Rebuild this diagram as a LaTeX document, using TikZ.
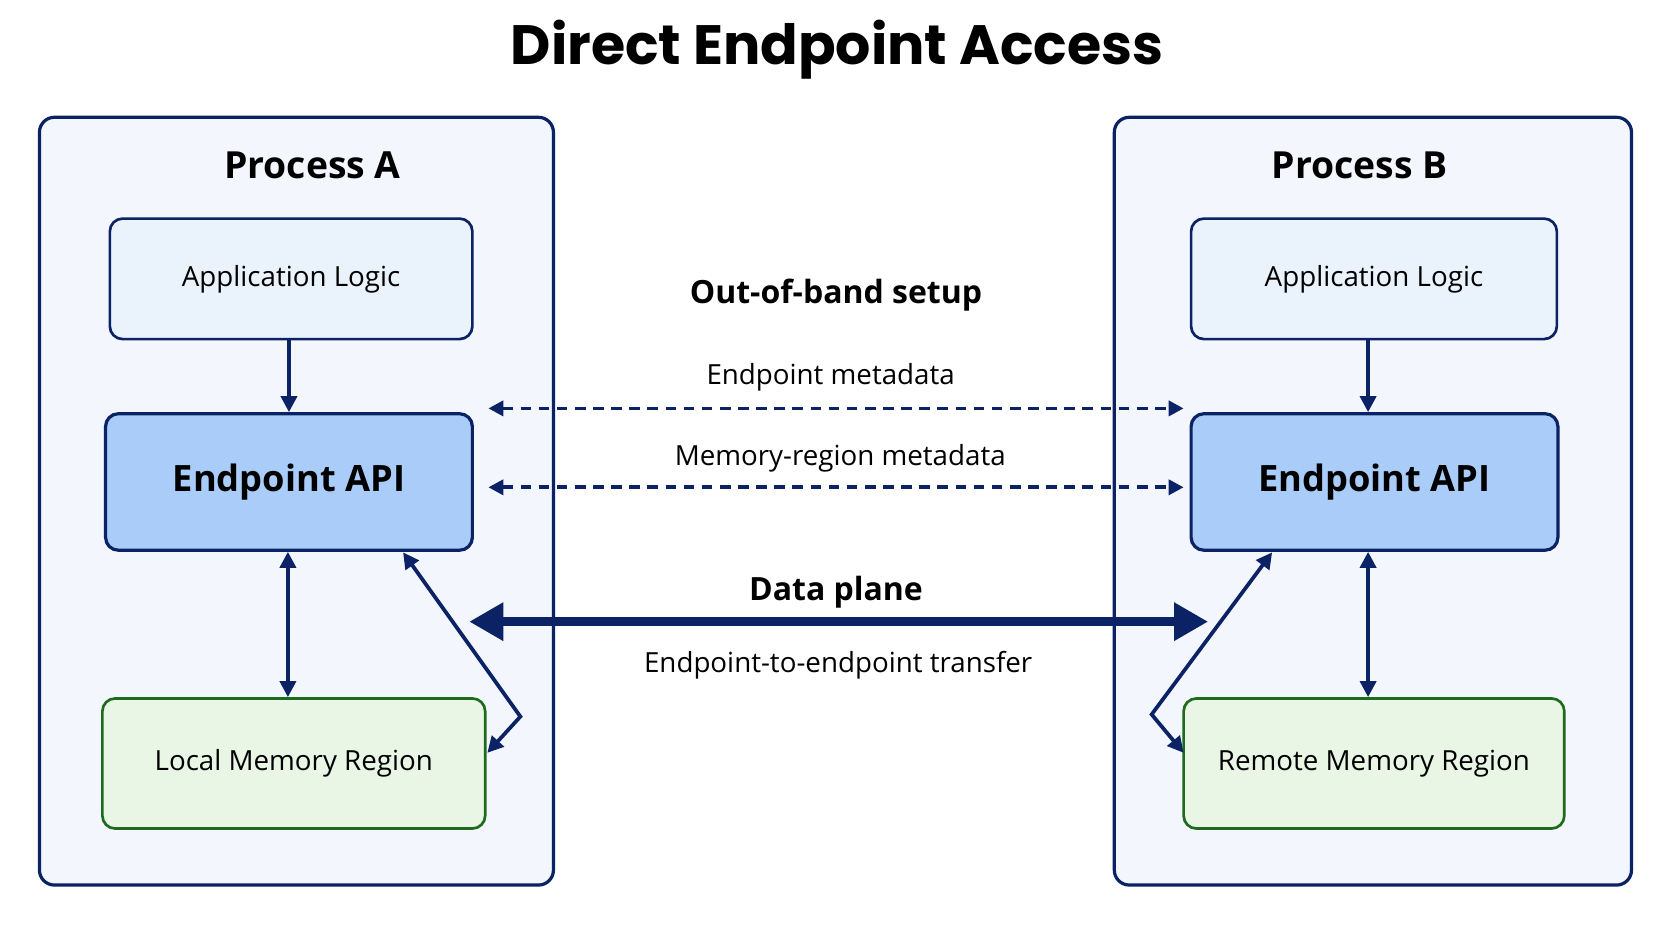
\documentclass[tikz,border=0pt]{standalone}
\usepackage{fontspec}
\setmainfont{Open Sans}
\newfontfamily\titlefont{Poppins}
\usetikzlibrary{arrows.meta}
\definecolor{navy}{HTML}{0B2265}
\definecolor{procfill}{HTML}{F3F6FC}
\definecolor{appfill}{HTML}{EAF2FC}
\definecolor{apifill}{HTML}{A9CCF8}
\definecolor{memfill}{HTML}{E9F6E6}
\definecolor{memline}{HTML}{1E6B1E}
\begin{document}
\begin{tikzpicture}[x=1pt,y=-1pt,
  proc/.style={draw=navy,line width=3pt,fill=procfill,rounded corners=14pt},
  app/.style={draw=navy,line width=2.5pt,fill=appfill,rounded corners=12pt},
  api/.style={draw=navy,line width=3pt,fill=apifill,rounded corners=12pt},
  mem/.style={draw=memline,line width=2.5pt,fill=memfill,rounded corners=12pt},
  lbl/.style={font=\fontsize{26}{30}\selectfont,text=black},
  blbl/.style={font=\fontsize{30}{34}\selectfont\bfseries,text=black},
  arr/.style={draw=navy,line width=3.5pt,-{Triangle[length=15pt,width=15pt]}},
  darr/.style={draw=navy,line width=3.5pt,{Triangle[length=15pt,width=15pt]}-{Triangle[length=15pt,width=15pt]}},
  dsh/.style={draw=navy,line width=3.5pt,dash pattern=on 10pt off 7pt,{Triangle[length=14pt,width=14pt]}-{Triangle[length=14pt,width=14pt]}}]
\useasboundingbox[fill=white] (0,0) rectangle (1568,882);
\node[font=\titlefont\fontsize{52}{56}\selectfont\bfseries] (title) at (785,47) {Direct Endpoint Access};
% boxes
\draw[proc] (37,110) rectangle (519,830);
\draw[proc] (1045,110) rectangle (1530,830);
\node[font=\fontsize{35}{40}\selectfont\bfseries] (pa) at (293,155) {Process A};
\node[font=\fontsize{35}{40}\selectfont\bfseries] (pb) at (1275,155) {Process B};
\node[app,minimum width=340pt,minimum height=113pt,lbl] (appA) at (273,261.5) {Application Logic};
\node[api,minimum width=344pt,minimum height=128pt,font=\fontsize{34}{40}\selectfont\bfseries] (apiA) at (271,452) {Endpoint API};
\node[mem,minimum width=359pt,minimum height=122pt,lbl] (memA) at (275.5,716) {Local Memory Region};
\node[app,minimum width=343pt,minimum height=113pt,lbl] (appB) at (1288.5,261.5) {Application Logic};
\node[api,minimum width=344pt,minimum height=128pt,font=\fontsize{34}{40}\selectfont\bfseries] (apiB) at (1289,452) {Endpoint API};
\node[mem,minimum width=357pt,minimum height=122pt,lbl] (memB) at (1288.5,716) {Remote Memory Region};
% vertical arrows
\draw[arr] (appA.south -| 271,0) -- (apiA.north -| 271,0);
\draw[arr] (appB.south -| 1283,0) -- (apiB.north -| 1283,0);
\draw[darr] (apiA.south -| 270,0) -- (memA.north -| 270,0);
\draw[darr] (apiB.south -| 1283,0) -- (memB.north -| 1283,0);
% diagonal
\coordinate (ka) at (488,672);
\coordinate (kb) at (1080,670);
\draw[darr] (378,518) -- (ka) -- (457,706);
\draw[darr] (1193,518) -- (kb) -- (1110,706);
% middle
\node[blbl] (oob) at (784,277) {Out-of-band setup};
\node[lbl] (em) at (779,354) {Endpoint metadata};
\node[lbl] (mm) at (788,430) {Memory-region metadata};
\coordinate (d1l) at (458,383); \coordinate (d1r) at (1110,383);
\coordinate (d2l) at (458,457); \coordinate (d2r) at (1110,457);
\draw[dsh] (d1l) -- (d1r);
\draw[dsh] (d2l) -- (d2r);
\node[blbl] (dp) at (784,555) {Data plane};
\coordinate (tl) at (440,583); \coordinate (tr) at (1133,583);
\draw[draw=navy,line width=8pt,{Triangle[length=32pt,width=34pt]}-{Triangle[length=32pt,width=34pt]}] (tl) -- (tr);
\node[lbl] (et) at (786,624) {Endpoint-to-endpoint transfer};
\end{tikzpicture}
\end{document}
